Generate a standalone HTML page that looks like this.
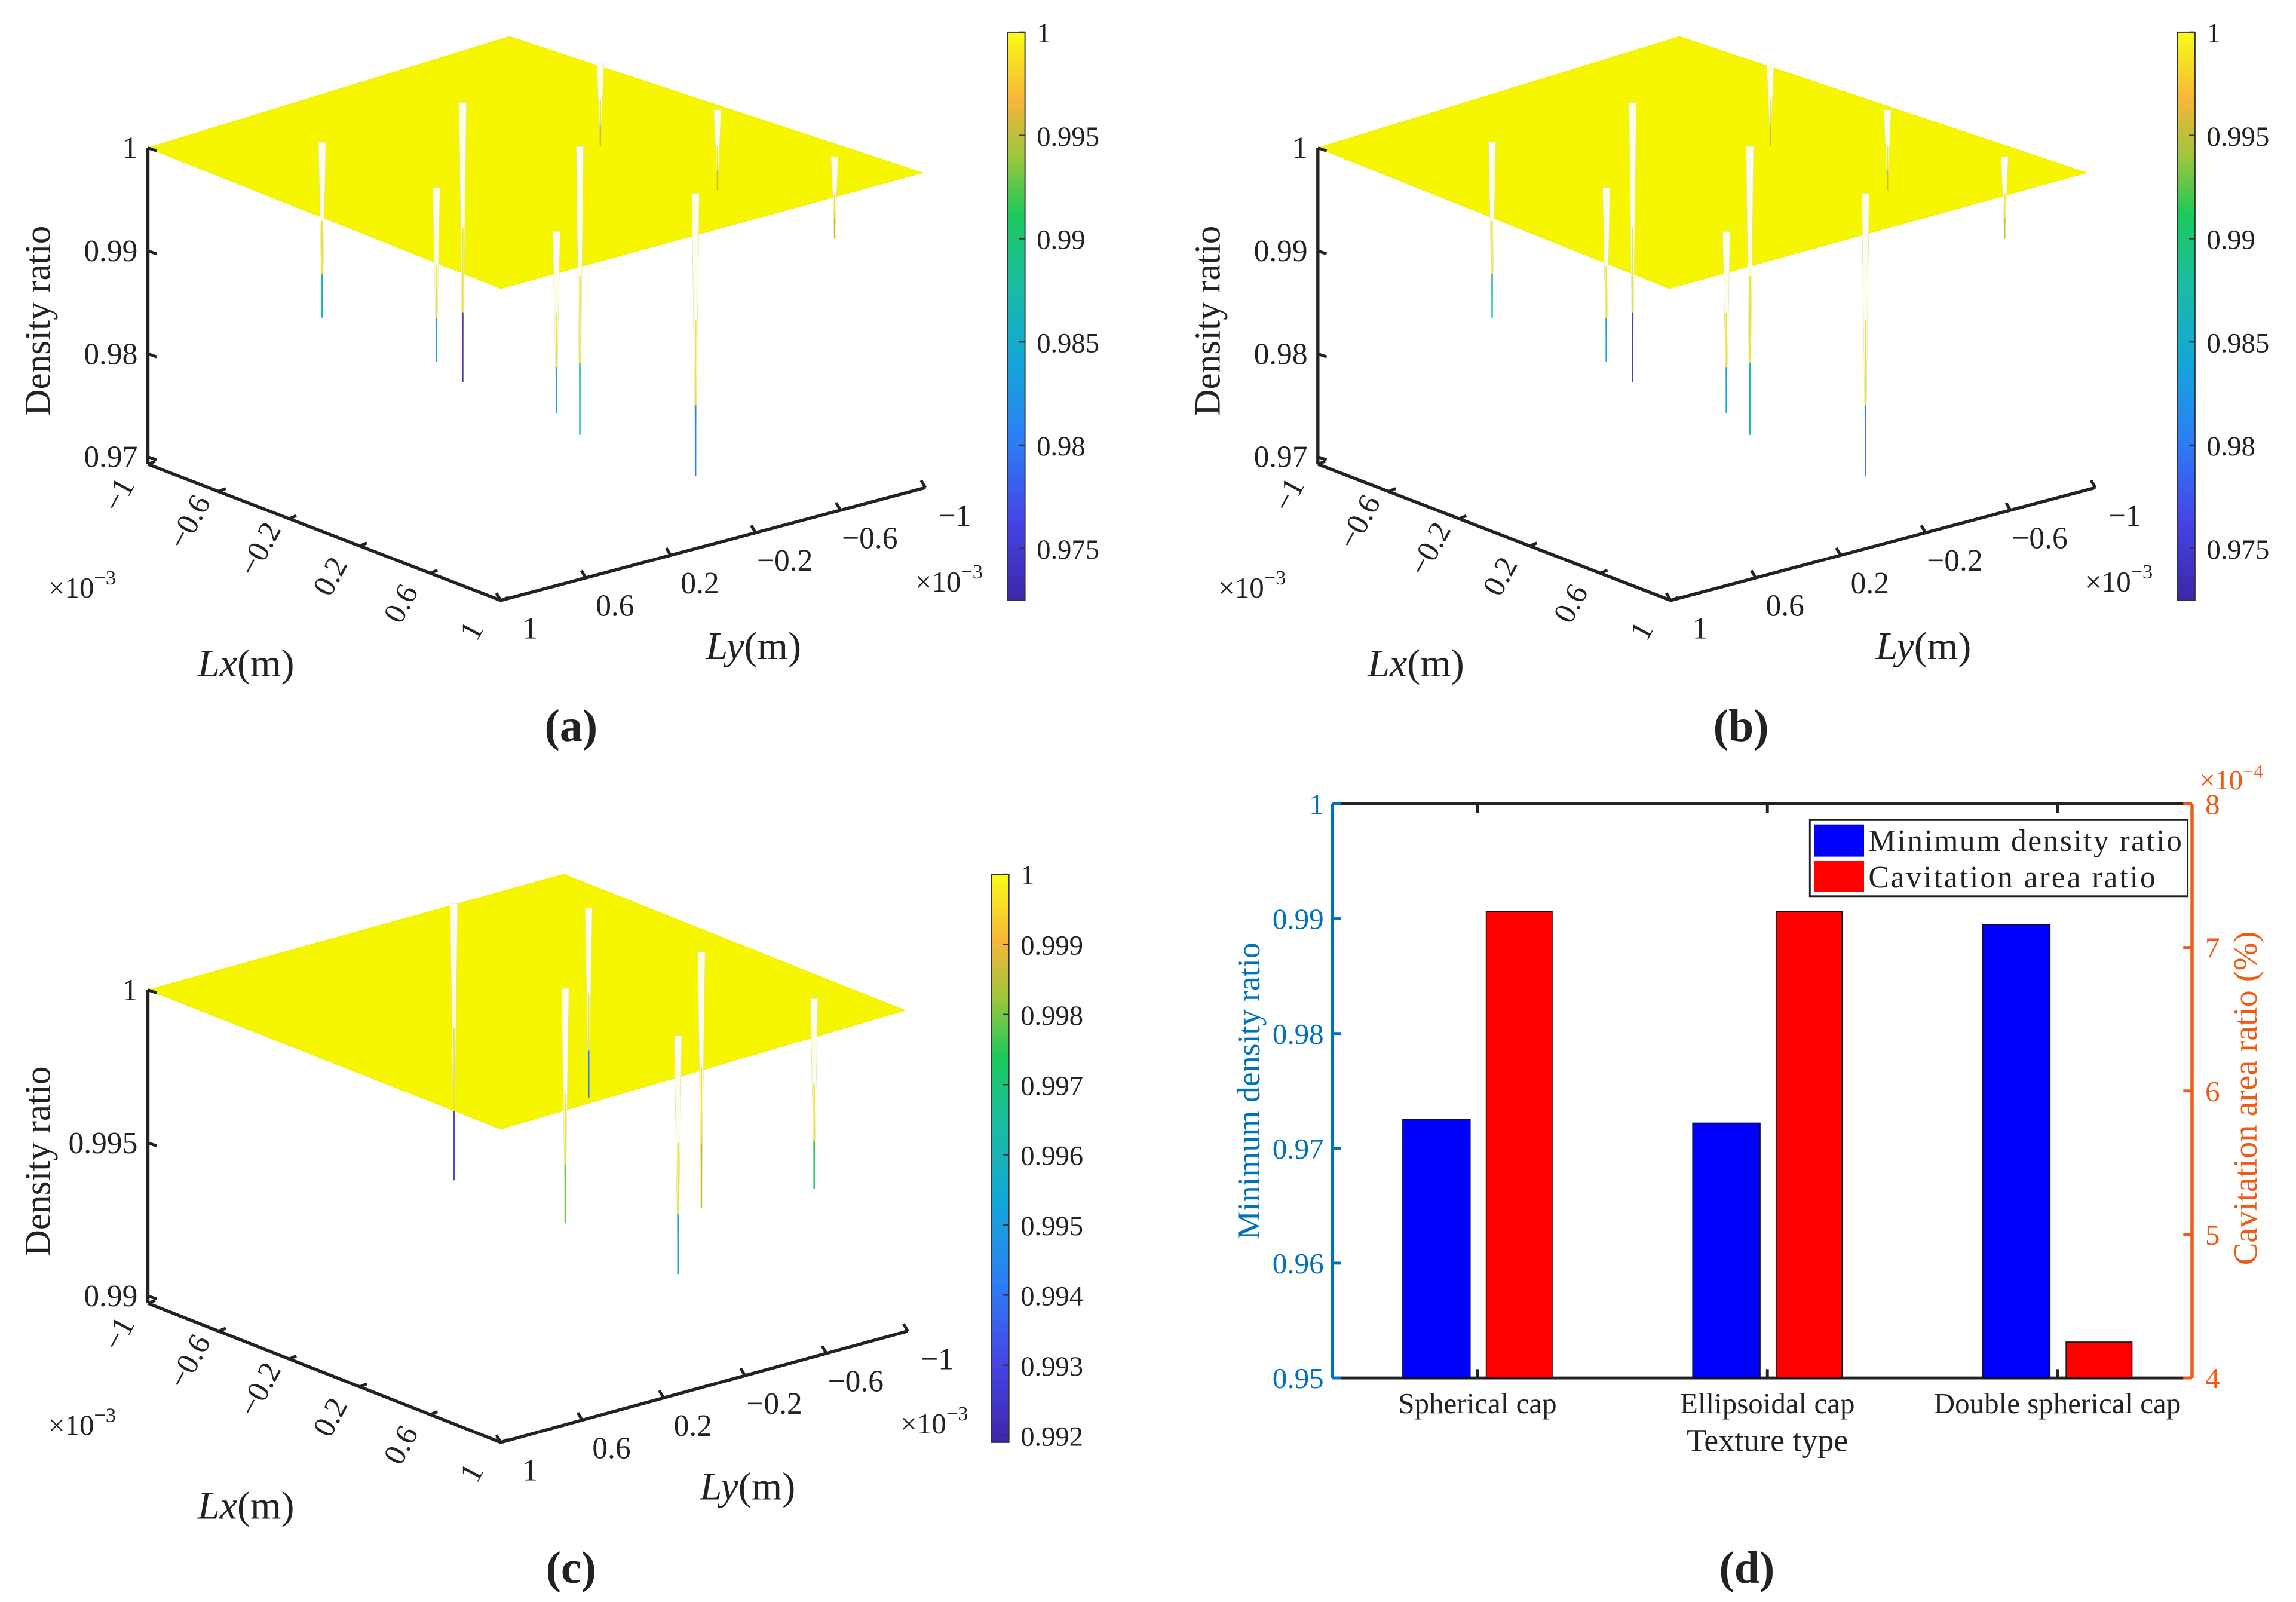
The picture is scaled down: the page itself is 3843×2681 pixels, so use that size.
<!DOCTYPE html>
<html><head><meta charset="utf-8"><style>
html,body{margin:0;padding:0;background:#fff}
svg{display:block}
text{font-family:"Liberation Serif",serif;fill:#222}
</style></head><body>
<svg id="fig" width="3843" height="2681" viewBox="0 0 1568 1094" preserveAspectRatio="none" xmlns="http://www.w3.org/2000/svg">
<defs>
<linearGradient id="parula" x1="0" y1="1" x2="0" y2="0">
<stop offset="0" stop-color="#3e26a8"/><stop offset="0.14" stop-color="#4545e6"/>
<stop offset="0.28" stop-color="#2c7ef5"/><stop offset="0.42" stop-color="#13a6da"/>
<stop offset="0.56" stop-color="#1cbca0"/><stop offset="0.68" stop-color="#1cc95a"/>
<stop offset="0.78" stop-color="#9bc63c"/><stop offset="0.88" stop-color="#f6b63a"/>
<stop offset="1" stop-color="#f9fb15"/></linearGradient>
</defs>
<g id="panels"></g>
</svg>
<script>
const NS='http://www.w3.org/2000/svg';
const root=document.getElementById('panels');
function el(tag,attrs,parent,txt){const e=document.createElementNS(NS,tag);for(const k in attrs)e.setAttribute(k,attrs[k]);if(txt!==undefined)e.textContent=txt;(parent||root).appendChild(e);return e;}

// ---------- panel (d) data ----------
const categories=['Spherical cap','Ellipsoidal cap','Double spherical cap'];
const minDensity=[0.9725,0.9722,0.9895];
const cavArea=[7.25,7.25,4.25];
const leftTicks=[0.95,0.96,0.97,0.98,0.99,1];
const rightTicks=[4,5,6,7,8];

// ---------- 3D panel data ----------
const zTicksAB=[1,0.99,0.98,0.97];
const zTicksC=[1,0.995,0.99];
const cbTicksAB=[1,0.995,0.99,0.985,0.98,0.975];
const cbTicksC=[1,0.999,0.998,0.997,0.996,0.995,0.994,0.993,0.992];
const lxLabels=['\u22121','\u22120.6','\u22120.2','0.2','0.6','1'];
const lyLabels=['1','0.6','0.2','\u22120.2','\u22120.6','\u22121'];
const spikesA_x=[220,298,316,380,396,410,475,490,570];
const spikesA_top=[97,128,70,158,100,43,132,75,107];
const spikesA_bot=[217,247,261,282,297,100,325,130,163];
const spikesA_col=['#1cbca0','#13a6da','#5a3a9a','#13a6da','#1cbca0','#c8c020','#2c7ef5','#c8c020','#c8c020'];
const spikesC_x=[310,386,402,463,479,556];
const spikesC_top=[42,100,45,132,75,107];
const spikesC_bot=[231,260,175,295,250,237];
const spikesC_col=['#4545e6','#6ac84a','#2c7ef5','#13a6da','#c8c020','#1cc95a'];

function panel3d(cfg){
  const g=el('g',{transform:`translate(${cfg.dx},${cfg.dy})`,});
  const P=cfg.plane;
  const pl=el('polygon',{points:P.map(p=>p.join(',')).join(' '),fill:'#f6f600',stroke:'#eeee00','stroke-width':0.5},g);
  
  for(let i=0;i<cfg.sx.length;i++){
    const x=cfg.sx[i],t=cfg.st[i],b=cfg.sb[i];
    const sp=el('g',{},g);
    
    el('polygon',{points:`${x-2.5},${t} ${x+2.5},${t} ${x},${b}`,fill:'#fdfde8',stroke:'#e0e0c0','stroke-width':0.3},sp);
    el('line',{x1:x,y1:t+(b-t)*0.45,x2:x,y2:b-(b-t)*0.25,stroke:'#e8e830','stroke-width':1},sp);
    el('line',{x1:x,y1:b-(b-t)*0.25,x2:x,y2:b,stroke:cfg.sc[i],'stroke-width':1},sp);
  }
  const ax=101, zt=cfg.zTop, zb=cfg.zBot;
  el('line',{x1:ax,y1:zt,x2:ax,y2:zb,stroke:'#222','stroke-width':2.2},g);
  const zt0=cfg.zt[0], zt1=cfg.zt[cfg.zt.length-1];
  cfg.zt.forEach(v=>{
    const y=zt+(zt0-v)/(zt0-zt1)*(cfg.zTickBot-zt);
    el('line',{x1:ax,y1:y,x2:ax+6,y2:y+2,stroke:'#222','stroke-width':2},g);
    const t=el('text',{x:ax-7,y:y+7,'text-anchor':'end','font-size':21},g,String(v));
    
  });
  const zl=el('text',{x:0,y:0,'font-size':25,'text-anchor':'middle',transform:`translate(34,${(zt+zb)/2+10}) rotate(-90)`},g,'Density ratio');
  
  const F=cfg.floor;
  el('polyline',{points:F.map(p=>p.join(',')).join(' '),fill:'none',stroke:'#222','stroke-width':2.2},g);
  for(let i=0;i<6;i++){
    const f=i/5;
    const x=F[0][0]+(F[1][0]-F[0][0])*f, y=F[0][1]+(F[1][1]-F[0][1])*f;
    el('line',{x1:x,y1:y,x2:x+5,y2:y-2,stroke:'#222','stroke-width':2},g);
    const t=el('text',{x:0,y:0,'font-size':21,'text-anchor':'middle',transform:`translate(${x-14},${y+24}) rotate(-62)`},g,lxLabels[i]);
    
    const x2=F[1][0]+(F[2][0]-F[1][0])*f, y2=F[1][1]+(F[2][1]-F[1][1])*f;
    el('line',{x1:x2,y1:y2,x2:x2-3,y2:y2-5,stroke:'#222','stroke-width':2},g);
    const t2=el('text',{x:x2+20,y:y2+26,'font-size':21,'text-anchor':'middle'},g,lyLabels[i]);
    
  }
  const e1=el('text',{x:33,y:cfg.expY,'font-size':20},g);e1.innerHTML='×10<tspan dy="-9" font-size="14">−3</tspan>';
  
  const e2=el('text',{x:cfg.exp2X,y:cfg.exp2Y,'font-size':20},g);e2.innerHTML='×10<tspan dy="-9" font-size="14">−3</tspan>';
  
  const lx=el('text',{x:135,y:cfg.lxY,'font-size':27},g);lx.innerHTML='<tspan font-style="italic">Lx</tspan>(m)';
  
  const ly=el('text',{x:cfg.lyX,y:cfg.lyY,'font-size':27},g);ly.innerHTML='<tspan font-style="italic">Ly</tspan>(m)';
  
  const cb=cfg.cb;
  const r=el('rect',{x:cb.x,y:cb.top,width:12,height:cb.bot-cb.top,fill:'url(#parula)',stroke:'#333','stroke-width':0.8},g);
  
  cfg.cbt.forEach((v,i)=>{
    const y=cb.top+i*cb.step;
    el('line',{x1:cb.x+12,y1:y,x2:cb.x+8,y2:y,stroke:'#333','stroke-width':1},g);
    const t=el('text',{x:cb.x+20,y:y+7,'font-size':19},g,String(v));
    
  });
  const cap=el('text',{x:390,y:cfg.capY,'font-size':31,'text-anchor':'middle','font-weight':'bold'},g,cfg.cap);
  
}

const cfgA={name:'panel-a',dx:0,dy:0,plane:[[101,101],[348,25],[630,118],[342,197]],sx:spikesA_x,st:spikesA_top,sb:spikesA_bot,sc:spikesA_col,
 zTop:101,zBot:317,zTickBot:312,zt:zTicksAB,floor:[[101,317],[342,410],[632,333]],expY:408,exp2X:625,exp2Y:404,lxY:462,lyX:482,lyY:450,
 cb:{x:688,top:22,bot:410,step:70.5},cbt:cbTicksAB,capY:506,cap:'(a)'};
panel3d(cfgA);
panel3d(Object.assign({},cfgA,{name:'panel-b',dx:799,cap:'(b)',plane:[[101,101],[348,25],[626,118],[341,197]]}));
panel3d({name:'panel-c',dx:0,dy:575,plane:[[101,101],[385,22],[618,115],[342,196]],sx:spikesC_x,st:spikesC_top,sb:spikesC_bot,sc:spikesC_col,
 zTop:101,zBot:315,zTickBot:310,zt:zTicksC,floor:[[101,315],[342,410],[620,334]],expY:405,exp2X:615,exp2Y:404,lxY:462,lyX:478,lyY:449,
 cb:{x:677,top:22,bot:410,step:47.9},cbt:cbTicksC,capY:506,cap:'(c)'});

(function(){
  const g=el('g',{});
  const L=910,R=1497,T=549,B=941;
  const yL=v=>B-(v-0.95)/0.05*(B-T);
  const yR=v=>B-(v-4)/4*(B-T);
  const centers=[1009,1207,1405];
  el('line',{x1:L,y1:T,x2:R,y2:T,stroke:'#222','stroke-width':2},g);
  el('line',{x1:L,y1:B,x2:R,y2:B,stroke:'#222','stroke-width':2},g);
  centers.forEach(c=>{el('line',{x1:c,y1:T,x2:c,y2:T+6,stroke:'#222','stroke-width':2},g);el('line',{x1:c,y1:B,x2:c,y2:B-6,stroke:'#222','stroke-width':2},g);});
  for(let i=0;i<categories.length;i++){
    const c=centers[i];
    const b=el('rect',{x:c-51,y:yL(minDensity[i]),width:46,height:B-yL(minDensity[i]),fill:'#0000ff',stroke:'#111','stroke-width':0.7},g);
    
    const r=el('rect',{x:c+6,y:yR(cavArea[i]),width:45,height:B-yR(cavArea[i]),fill:'#ff0000',stroke:'#111','stroke-width':0.7},g);
    
    const t=el('text',{x:c,y:965,'font-size':20,'text-anchor':'middle'},g,categories[i]);
    
  }
  el('line',{x1:L,y1:T,x2:L,y2:B,stroke:'#0072bd','stroke-width':2.2},g);
  leftTicks.forEach(v=>{el('line',{x1:L,y1:yL(v),x2:L+6,y2:yL(v),stroke:'#0072bd','stroke-width':2},g);
    const t=el('text',{x:L-6,y:yL(v)+7,'font-size':20,'text-anchor':'end',style:'fill:#0072bd'},g,String(v));
    });
  el('line',{x1:R,y1:T,x2:R,y2:B,stroke:'#f05a14','stroke-width':2.2},g);
  rightTicks.forEach(v=>{el('line',{x1:R,y1:yR(v),x2:R-6,y2:yR(v),stroke:'#f05a14','stroke-width':2},g);
    const t=el('text',{x:R+9,y:yR(v)+7,'font-size':20,style:'fill:#f05a14'},g,String(v));
    });
  const ex=el('text',{x:R+5,y:T-10,'font-size':19,style:'fill:#f05a14'},g);ex.innerHTML='×10<tspan dy="-8" font-size="13">−4</tspan>';
  
  const yl=el('text',{x:0,y:0,'font-size':22,'text-anchor':'middle',style:'fill:#0072bd',transform:`translate(860,${(T+B)/2}) rotate(-90)`},g,'Minimum density ratio');
  
  const yr=el('text',{x:0,y:0,'font-size':23,'text-anchor':'middle',style:'fill:#f05a14',transform:`translate(1541,${(T+B)/2+5}) rotate(-90)`},g,'Cavitation area ratio (%)');
  
  const xt=el('text',{x:1207,y:991,'font-size':22,'text-anchor':'middle'},g,'Texture type');
  
  const lg=el('g',{},g);
  el('rect',{x:1236,y:560,width:258,height:52,fill:'#fff',stroke:'#222','stroke-width':1.2},lg);
  el('rect',{x:1239,y:563,width:34,height:22,fill:'#0000ff'},lg);
  el('rect',{x:1239,y:588,width:34,height:21,fill:'#ff0000'},lg);
  el('text',{x:1276,y:581,'font-size':21,textLength:214},lg,'Minimum density ratio');
  el('text',{x:1276,y:606,'font-size':21,textLength:196},lg,'Cavitation area ratio');
  const cap=el('text',{x:1193,y:1081,'font-size':31,'text-anchor':'middle','font-weight':'bold'},g,'(d)');
  
})();
</script>
</body></html>
